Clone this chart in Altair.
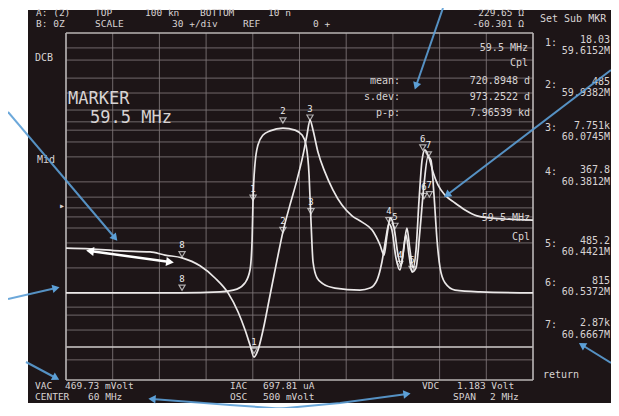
import math
import altair as alt
import pandas as pd

# ---------------- data ----------------
grid_freq = [59.0, 59.2, 59.4, 59.6, 59.8, 60.0, 60.2, 60.4, 60.6, 60.8, 61.0]
grid_amp = [95.7, 92.2, 87.0, 82.7, 77.8, 74.4, 72.0, 68.6, 64.3, 57.1, 52.7,
            49.6, 47.0, 43.8, 39.5, 32.3, 25.1, 21.0, 18.7, 14.4, 5.8]
bright_amp = [9.5]
border_amp = [0, 100]
border_freq = [59.0, 61.0]

trace_a_freq = [59.000, 59.103, 59.231, 59.360, 59.424, 59.497, 59.574, 59.638, 59.694,
                59.737, 59.767, 59.788, 59.805, 59.822, 59.844, 59.874, 59.904, 59.929,
                59.959, 59.989, 60.015, 60.032, 60.045, 60.058, 60.079, 60.109, 60.143,
                60.182, 60.225, 60.268, 60.311, 60.345, 60.362, 60.375, 60.388, 60.405,
                60.422, 60.435, 60.448, 60.460, 60.473, 60.486, 60.499, 60.512, 60.525,
                60.537, 60.555, 60.572, 60.593, 60.623, 60.666, 60.709, 60.760, 60.816,
                60.880, 61.000]
trace_a_amp = [38.0, 37.8, 37.2, 36.9, 36.0, 35.2, 32.9, 29.4, 25.1,
               19.6, 14.4, 10.1, 6.6, 8.6, 14.4, 24.5, 34.6, 42.7,
               50.4, 57.6, 64.8, 70.6, 74.9, 72.0, 65.7, 59.9, 54.8,
               50.4, 47.3, 45.5, 43.2, 38.9, 36.0, 41.8, 46.7, 43.8,
               36.0, 33.1, 38.9, 43.8, 37.5, 32.3, 37.5, 51.9, 63.4,
               66.3, 64.0, 59.9, 56.2, 53.3, 51.0, 49.0, 47.3, 46.7,
               46.4, 46.1]

trace_b_freq = [59.000, 59.231, 59.488, 59.660, 59.732, 59.767, 59.788, 59.797, 59.801,
                59.809, 59.822, 59.844, 59.874, 59.929, 59.981, 60.011, 60.028, 60.041,
                60.049, 60.058, 60.075, 60.101, 60.152, 60.259, 60.302, 60.332, 60.353,
                60.370, 60.383, 60.396, 60.413, 60.430, 60.443, 60.456, 60.469, 60.482,
                60.499, 60.516, 60.533, 60.550, 60.563, 60.576, 60.589, 60.602, 60.623,
                60.666, 60.773, 61.000]
trace_b_amp = [25.1, 25.1, 25.1, 25.4, 26.2, 28.0, 31.7, 40.3, 51.9,
               62.0, 67.7, 70.6, 71.8, 72.6, 72.0, 70.6, 67.7, 59.1,
               46.1, 34.0, 29.4, 27.7, 26.5, 25.9, 26.5, 28.8, 34.0,
               40.9, 45.0, 43.2, 35.2, 31.7, 36.0, 41.8, 36.0, 31.1,
               32.3, 43.2, 56.2, 64.3, 63.4, 53.3, 40.3, 32.3, 28.0,
               25.9, 25.4, 25.1]

marker_freq = [59.497, 59.497, 59.805, 59.801, 59.929, 59.929, 60.045, 60.049,
               60.383, 60.409, 60.430, 60.482, 60.528, 60.552, 60.533, 60.556]
marker_amp = [36.2, 26.6, 8.4, 52.5, 74.8, 43.2, 75.6, 48.6,
              46.0, 44.4, 33.4, 32.0, 67.0, 65.0, 53.0, 53.5]
marker_label = ["8", "8", "1", "1", "2", "2", "3", "3",
                "4", "5", "4", "5", "6", "7", "6", "7"]

# screen texts
left_texts = ["A: (2)", "TOP", "100 kn", "BOTTOM", "10 n",
              "B: 0Z", "SCALE", "30 +/div", "REF", "0 +",
              "Set Sub MKR", "1:", "2:", "3:", "4:", "5:", "6:", "7:", "return",
              "DCB", "Mid", "▸",
              "VAC", "469.73 mVolt", "CENTER", "60 MHz",
              "IAC", "697.81 uA", "OSC", "500 mVolt",
              "VDC", "1.183 Volt", "SPAN", "2 MHz"]
right_texts = ["229.65 Ω", "-60.301 Ω",
               "18.03", "59.6152M", "485", "59.9382M", "7.751k", "60.0745M",
               "367.8", "60.3812M", "485.2", "60.4421M", "815", "60.5372M",
               "2.87k", "60.6667M",
               "59.5 MHz", "Cpl", "mean:", "720.8948 d", "s.dev:", "973.2522 d",
               "p-p:", "7.96539 kd", "59.5-MHz", "Cpl"]
marker_texts = ["MARKER", "59.5 MHz"]

# ---------------- layout (page pixel positions, font sizes) ----------------
OX, OY = 66, 33          # plot-area origin on the page
W, H = 467, 347
left_pos = [(36, 13), (95, 13), (145, 13), (200, 13), (268, 13),
            (36, 24), (95, 24), (172, 24), (243, 24), (313, 24),
            (540, 19), (545, 43), (545, 85), (545, 128), (545, 172), (545, 244),
            (545, 283), (545, 325), (543, 375),
            (35, 58), (37, 160), (59, 206),
            (35, 386), (65, 386), (35, 397), (88, 397),
            (230, 386), (263, 386), (230, 397), (263, 397),
            (422, 386), (457, 386), (453, 397), (490, 397)]
left_size = [9.5] * 10 + [10] * 9 + [10] * 3 + [9.5] * 12
right_pos = [(524, 13), (524, 24),
             (610, 40), (610, 51), (610, 82), (610, 93), (610, 126), (610, 137),
             (610, 170), (610, 182), (610, 241), (610, 252), (610, 281), (610, 292),
             (610, 323), (610, 335),
             (528, 48), (528, 63), (400, 81), (530, 81), (400, 97), (530, 97),
             (400, 113), (530, 113), (530, 218), (530, 237)]
right_size = [9.5, 9.5] + [10] * 14 + [10] * 10
marker_pos = [(68, 99), (90, 118)]
marker_size = [17, 17]

blue_segs = [[(443, 8), (416, 86)],
             [(611, 70), (447, 195)],
             [(8, 112), (115, 238)],
             [(8, 299), (56, 288)],
             [(26, 362), (56, 378)],
             [(611, 363), (582, 345)],
             [(300, 410), (230, 405), (152, 399)],
             [(265, 410), (340, 403), (407, 394)]]
white_arrow = [(90, 251), (170, 262)]

FONT = "DejaVu Sans Mono"
TXT = "#d8d3d3"
SCREEN = "#1d1517"
GRID = "#7f7779"
BLUE = "#5c9fd6"

XS = alt.Scale(domain=[59, 61], nice=False, zero=False)
YS = alt.Scale(domain=[0, 100], nice=False, zero=False)


def rx(x):
    return x - OX


def ry(y):
    return y - OY


def ang(p0, p1):
    dx, dy = p1[0] - p0[0], p1[1] - p0[1]
    return math.degrees(math.atan2(dx, -dy)) % 360


one = pd.DataFrame({"a": [0]})
screen = alt.Chart(one).mark_rect(color=SCREEN).encode(
    x=alt.value(rx(28)), x2=alt.value(rx(611)), y=alt.value(ry(10)), y2=alt.value(ry(403)))

vgrid = alt.Chart(pd.DataFrame({"f": grid_freq})).mark_rule(
    color=GRID, strokeWidth=1, opacity=0.85).encode(x=alt.X("f:Q", scale=XS, axis=None))
hgrid = alt.Chart(pd.DataFrame({"v": grid_amp})).mark_rule(
    color=GRID, strokeWidth=1, opacity=0.85).encode(y=alt.Y("v:Q", scale=YS, axis=None))
hbright = alt.Chart(pd.DataFrame({"v": bright_amp})).mark_rule(
    color="#d0cccc", strokeWidth=1.6).encode(y=alt.Y("v:Q", scale=YS, axis=None))
hborder = alt.Chart(pd.DataFrame({"v": border_amp})).mark_rule(
    color="#b9b4b4", strokeWidth=1.5).encode(y=alt.Y("v:Q", scale=YS, axis=None))
vborder = alt.Chart(pd.DataFrame({"f": border_freq})).mark_rule(
    color="#b9b4b4", strokeWidth=1.5).encode(x=alt.X("f:Q", scale=XS, axis=None))

traces = pd.concat([
    pd.DataFrame({"f": trace_a_freq, "v": trace_a_amp, "trace": "A"}),
    pd.DataFrame({"f": trace_b_freq, "v": trace_b_amp, "trace": "B"}),
])
lines = alt.Chart(traces).mark_line(
    color="#ebe8e8", strokeWidth=1.7, interpolate="monotone").encode(
    x=alt.X("f:Q", scale=XS, axis=None), y=alt.Y("v:Q", scale=YS, axis=None),
    detail="trace:N")

mk = pd.DataFrame({"f": marker_freq, "v": marker_amp, "t": marker_label})
mpts = alt.Chart(mk).mark_point(
    shape="triangle-down", size=38, filled=False, color="#eeeeee", strokeWidth=1.2).encode(
    x=alt.X("f:Q", scale=XS, axis=None), y=alt.Y("v:Q", scale=YS, axis=None))
mlab = alt.Chart(mk).mark_text(
    font=FONT, fontSize=9, color="#eeeeee", dy=-9).encode(
    x=alt.X("f:Q", scale=XS, axis=None), y=alt.Y("v:Q", scale=YS, axis=None), text="t:N")


def text_layer(texts, pos, sizes, align):
    df = pd.DataFrame({"t": texts, "x": [rx(p[0]) for p in pos],
                       "y": [ry(p[1]) for p in pos], "s": sizes})
    return alt.Chart(df).mark_text(
        align=align, baseline="middle", font=FONT, color=TXT).encode(
        x=alt.X("x:Q", scale=None, axis=None), y=alt.Y("y:Q", scale=None, axis=None),
        size=alt.Size("s:Q", scale=None, legend=None),
        text="t:N")


tl = text_layer(left_texts, left_pos, left_size, "left")
tr = text_layer(right_texts, right_pos, right_size, "right")
tm = text_layer(marker_texts, marker_pos, marker_size, "left")

# blue annotation arrows
rows, heads = [], []
for i, seg in enumerate(blue_segs):
    for j, p in enumerate(seg):
        rows.append({"id": i, "o": j, "x": rx(p[0]), "y": ry(p[1])})
    heads.append({"x": rx(seg[-1][0]), "y": ry(seg[-1][1]), "a": ang(seg[-2], seg[-1])})
blue_lines = alt.Chart(pd.DataFrame(rows)).mark_line(
    color=BLUE, strokeWidth=2, opacity=0.9).encode(
    x=alt.X("x:Q", scale=None, axis=None), y=alt.Y("y:Q", scale=None, axis=None),
    detail="id:N", order="o:Q")
blue_heads = alt.Chart(pd.DataFrame(heads)).mark_point(
    shape="triangle-up", size=70, filled=True, color=BLUE, opacity=1).encode(
    x=alt.X("x:Q", scale=None, axis=None), y=alt.Y("y:Q", scale=None, axis=None),
    angle=alt.Angle("a:Q", scale=None))

# white double arrow
wa = pd.DataFrame({"x": [rx(p[0]) for p in white_arrow], "y": [ry(p[1]) for p in white_arrow],
                   "o": [0, 1]})
w_line = alt.Chart(wa).mark_line(color="#ffffff", strokeWidth=2.5).encode(
    x=alt.X("x:Q", scale=None, axis=None), y=alt.Y("y:Q", scale=None, axis=None), order="o:Q")
wh = pd.DataFrame({"x": [rx(white_arrow[0][0]), rx(white_arrow[1][0])],
                   "y": [ry(white_arrow[0][1]), ry(white_arrow[1][1])],
                   "a": [ang(white_arrow[1], white_arrow[0]), ang(white_arrow[0], white_arrow[1])]})
w_heads = alt.Chart(wh).mark_point(
    shape="triangle-up", size=80, filled=True, color="#ffffff", opacity=1).encode(
    x=alt.X("x:Q", scale=None, axis=None), y=alt.Y("y:Q", scale=None, axis=None),
    angle=alt.Angle("a:Q", scale=None))

chart = alt.layer(
    screen, vgrid, hgrid, hbright, hborder, vborder, lines, mpts, mlab,
    w_line, w_heads, tl, tr, tm, blue_lines, blue_heads
).properties(
    width=W, height=H,
    padding={"left": 58, "top": 25, "right": 78, "bottom": 28},
    autosize=alt.AutoSizeParams(type="none"),
    background="#ffffff",
).configure_view(stroke=None)

chart.save("out.html", embed_options={"renderer": "svg", "actions": False})
